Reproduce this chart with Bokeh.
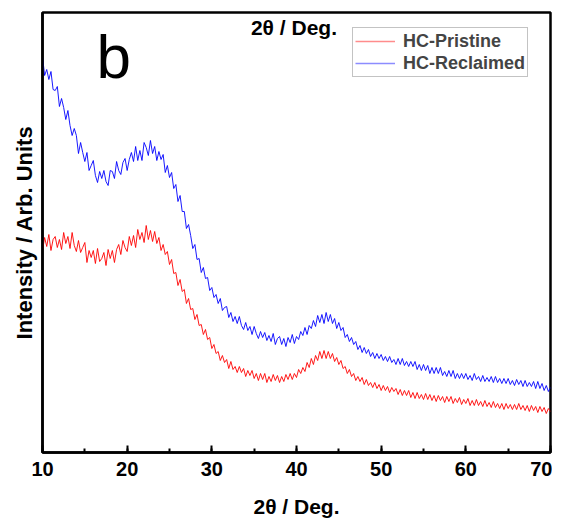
from bokeh.plotting import figure
from bokeh.models import Range1d, SingleIntervalTicker, FixedTicker, Label, Legend, LegendItem
from bokeh.embed import file_html
from bokeh.resources import INLINE

# 2theta sampling grid (degrees), 0.25 deg step
two_theta = [10 + 0.25 * i for i in range(241)]

# Intensity (arb. units)
reclaimed = [
    396, 377, 383, 373, 381, 363, 362, 366, 346, 354, 345, 333, 342, 327, 317, 324,
    317, 299, 310, 300, 291, 300, 282, 287, 292, 277, 270, 281, 274, 282, 271, 267,
    282, 281, 274, 291, 282, 278, 290, 294, 282, 293, 300, 291, 306, 292, 302, 292,
    310, 305, 297, 312, 299, 306, 292, 301, 293, 298, 280, 287, 275, 280, 264, 268,
    251, 257, 241, 241, 224, 228, 217, 204, 208, 193, 194, 180, 185, 174, 175, 162,
    165, 155, 158, 149, 154, 142, 145, 146, 135, 140, 131, 136, 129, 136, 127, 123,
    130, 122, 126, 118, 126, 119, 114, 121, 115, 120, 112, 117, 111, 119, 108, 114,
    116, 108, 114, 106, 115, 110, 118, 109, 116, 113, 121, 117, 125, 118, 127, 124,
    132, 126, 137, 130, 138, 129, 140, 131, 138, 129, 134, 124, 130, 122, 125, 115,
    118, 111, 115, 108, 111, 103, 107, 100, 105, 99, 103, 96, 100, 94, 99, 94,
    98, 92, 96, 91, 96, 90, 93, 88, 94, 88, 94, 87, 91, 86, 91, 86,
    91, 83, 88, 82, 88, 82, 87, 79, 85, 79, 85, 79, 85, 77, 81, 76,
    82, 76, 82, 74, 79, 74, 79, 74, 79, 73, 77, 72, 79, 73, 76, 71,
    77, 71, 75, 71, 76, 70, 76, 70, 74, 69, 74, 69, 74, 68, 72, 67,
    73, 68, 72, 66, 72, 66, 70, 66, 71, 64, 71, 64, 69, 62, 67, 61,
    65,
]
pristine = [
    202, 215, 206, 218, 202, 213, 216, 205, 213, 203, 220, 209, 216, 204, 220, 207,
    201, 212, 200, 205, 210, 190, 202, 195, 202, 189, 204, 191, 194, 200, 187, 203,
    194, 202, 190, 203, 208, 198, 212, 205, 201, 216, 207, 217, 205, 223, 213, 220,
    210, 227, 213, 222, 211, 221, 209, 215, 202, 208, 198, 201, 188, 193, 179, 180,
    167, 173, 161, 163, 149, 154, 143, 144, 133, 138, 127, 128, 118, 123, 113, 115,
    104, 108, 99, 101, 92, 97, 90, 93, 84, 91, 83, 86, 80, 86, 80, 84,
    76, 82, 77, 82, 74, 79, 72, 79, 73, 79, 70, 76, 71, 78, 72, 77,
    70, 76, 71, 78, 73, 79, 73, 79, 75, 83, 79, 85, 81, 90, 85, 94,
    88, 97, 92, 101, 94, 102, 94, 101, 94, 99, 91, 95, 88, 92, 84, 86,
    79, 83, 76, 79, 72, 76, 71, 75, 68, 73, 67, 70, 65, 70, 64, 68,
    62, 67, 62, 66, 60, 65, 61, 64, 58, 63, 57, 62, 57, 62, 55, 60,
    54, 60, 54, 58, 53, 59, 53, 58, 52, 57, 51, 57, 52, 56, 50, 56,
    51, 56, 49, 54, 50, 55, 48, 53, 49, 54, 47, 52, 47, 53, 47, 51,
    46, 52, 46, 50, 45, 51, 45, 49, 44, 49, 43, 49, 44, 48, 43, 48,
    43, 49, 43, 47, 42, 47, 41, 47, 42, 46, 40, 46, 41, 45, 39, 44,
    41,
]
series_names = ["HC-Pristine", "HC-Reclaimed"]
x_title = "2θ / Deg."
y_title = "Intensity / Arb. Units"

FONT = "Liberation Sans"

p = figure(width=552, height=522, output_backend="svg", toolbar_location=None,
           x_range=Range1d(10, 70), y_range=Range1d(0, 440),
           min_border_left=42, min_border_right=2, min_border_top=12, min_border_bottom=70)

p.grid.visible = False
p.outline_line_color = "black"
p.outline_line_width = 2.5

r_pr = p.line(two_theta, pristine, line_color="#ff0000", line_width=1, line_alpha=0.9)
r_re = p.line(two_theta, reclaimed, line_color="#0000ff", line_width=1, line_alpha=0.9)
# legend swatches (lighter, as in the original legend); a single point draws nothing in the plot
k_pr = p.line(two_theta[:1], pristine[:1], line_color="#ff8c8c", line_width=1.5)
k_re = p.line(two_theta[:1], reclaimed[:1], line_color="#8c8cff", line_width=1.5)

xa = p.xaxis[0]
xa.ticker = SingleIntervalTicker(interval=10, num_minor_ticks=2)
xa.axis_line_width = 2.5
xa.axis_line_color = "black"
xa.major_tick_in = 7
xa.major_tick_out = 0
xa.minor_tick_in = 4
xa.minor_tick_out = 0
xa.major_tick_line_width = 2
xa.minor_tick_line_width = 2
xa.major_label_text_font = FONT
xa.major_label_text_font_style = "bold"
xa.major_label_text_font_size = "20px"
xa.major_label_text_color = "black"
xa.major_label_standoff = 9
xa.axis_label = x_title
xa.axis_label_text_font = FONT
xa.axis_label_text_font_style = "bold"
xa.axis_label_text_font_size = "21px"
xa.axis_label_text_color = "black"
xa.axis_label_standoff = 16

ya = p.yaxis[0]
ya.ticker = FixedTicker(ticks=[])
ya.axis_line_width = 2.5
ya.axis_line_color = "black"
ya.axis_label = y_title
ya.axis_label_text_font = FONT
ya.axis_label_text_font_style = "bold"
ya.axis_label_text_font_size = "22px"
ya.axis_label_text_color = "black"
ya.axis_label_standoff = 6

p.add_layout(Label(x=18.4, y=396, text="b", text_font=FONT, text_font_size="62px",
                   text_align="center", text_baseline="middle", text_color="black"))
p.add_layout(Label(x=39.7, y=425, text=x_title, text_font=FONT, text_font_style="bold",
                   text_font_size="21px", text_align="center", text_baseline="middle",
                   text_color="black"))

legend = Legend(items=[LegendItem(label=series_names[0], renderers=[k_pr]),
                       LegendItem(label=series_names[1], renderers=[k_re])],
                location=(310, 375))
legend.label_text_font = FONT
legend.label_text_font_style = "bold"
legend.label_text_font_size = "18px"
legend.border_line_color = "#888888"
legend.border_line_width = 1
legend.glyph_width = 40
legend.glyph_height = 22
legend.label_height = 22
legend.spacing = 0
legend.padding = 2
legend.margin = 0
legend.label_standoff = 8
p.add_layout(legend)

open("out.html", "w").write(file_html(p, INLINE))
